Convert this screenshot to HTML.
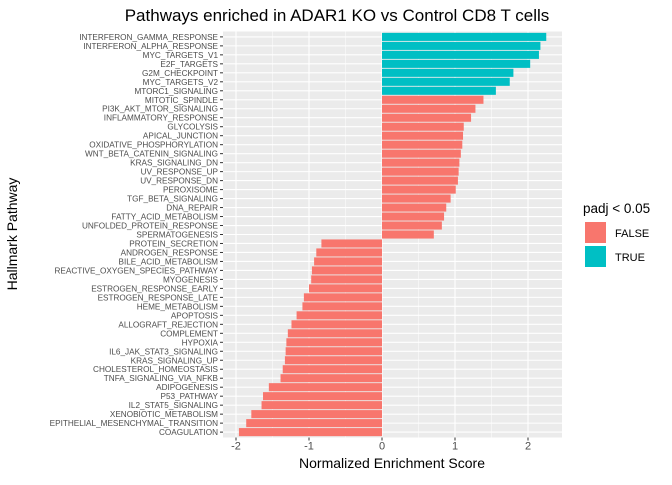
<!DOCTYPE html>
<html><head><meta charset="utf-8"><style>
body{margin:0;background:#fff;font-family:"Liberation Sans",sans-serif}
svg text{font-family:"Liberation Sans",sans-serif}
</style></head><body>
<svg id="c" width="672" height="480"></svg>
<script>
const categories=["INTERFERON_GAMMA_RESPONSE","INTERFERON_ALPHA_RESPONSE","MYC_TARGETS_V1","E2F_TARGETS","G2M_CHECKPOINT","MYC_TARGETS_V2","MTORC1_SIGNALING","MITOTIC_SPINDLE","PI3K_AKT_MTOR_SIGNALING","INFLAMMATORY_RESPONSE","GLYCOLYSIS","APICAL_JUNCTION","OXIDATIVE_PHOSPHORYLATION","WNT_BETA_CATENIN_SIGNALING","KRAS_SIGNALING_DN","UV_RESPONSE_UP","UV_RESPONSE_DN","PEROXISOME","TGF_BETA_SIGNALING","DNA_REPAIR","FATTY_ACID_METABOLISM","UNFOLDED_PROTEIN_RESPONSE","SPERMATOGENESIS","PROTEIN_SECRETION","ANDROGEN_RESPONSE","BILE_ACID_METABOLISM","REACTIVE_OXYGEN_SPECIES_PATHWAY","MYOGENESIS","ESTROGEN_RESPONSE_EARLY","ESTROGEN_RESPONSE_LATE","HEME_METABOLISM","APOPTOSIS","ALLOGRAFT_REJECTION","COMPLEMENT","HYPOXIA","IL6_JAK_STAT3_SIGNALING","KRAS_SIGNALING_UP","CHOLESTEROL_HOMEOSTASIS","TNFA_SIGNALING_VIA_NFKB","ADIPOGENESIS","P53_PATHWAY","IL2_STAT5_SIGNALING","XENOBIOTIC_METABOLISM","EPITHELIAL_MESENCHYMAL_TRANSITION","COAGULATION"];
const nes=[2.25,2.17,2.15,2.03,1.8,1.75,1.56,1.39,1.28,1.22,1.12,1.11,1.1,1.08,1.06,1.05,1.04,1.01,0.94,0.88,0.85,0.82,0.71,-0.83,-0.9,-0.93,-0.96,-0.97,-1.0,-1.07,-1.09,-1.17,-1.24,-1.29,-1.31,-1.32,-1.33,-1.36,-1.39,-1.55,-1.63,-1.65,-1.79,-1.86,-1.96];
const signif=[1,1,1,1,1,1,1,0,0,0,0,0,0,0,0,0,0,0,0,0,0,0,0,0,0,0,0,0,0,0,0,0,0,0,0,0,0,0,0,0,0,0,0,0,0];
const xTicks=[-2,-1,0,1,2];
const NS="http://www.w3.org/2000/svg",svg=document.getElementById('c');
const L=223,R=562,T=31.5,B=437.5;
const x=v=>382+v*73;
const step=(B-T)/(categories.length-1+1.2);
const y=i=>T+step*(0.6+i);
function mk(t,a,p){const e=document.createElementNS(NS,t);for(const k in a)e.setAttribute(k,a[k]);(p||svg).appendChild(e);return e;}
let e;
e=mk('rect',{x:L,y:T,width:R-L,height:B-T,fill:'#ebebeb'});


for(let i=0;i<xTicks.length-1;i++){const m=(xTicks[i]+xTicks[i+1])/2;mk('line',{x1:x(m),x2:x(m),y1:T,y2:B,stroke:'#fff','stroke-width':0.5});}
xTicks.forEach(t=>{mk('line',{x1:x(t),x2:x(t),y1:T,y2:B,stroke:'#fff','stroke-width':1.1});});
categories.forEach((c,i)=>mk('line',{x1:L,x2:R,y1:y(i),y2:y(i),stroke:'#fff','stroke-width':1.1}));
const bw=step*0.9;
categories.forEach((c,i)=>{
 const v=nes[i];
 e=mk('rect',{x:Math.min(x(0),x(v)),y:y(i)-bw/2,width:Math.abs(x(v)-x(0)),height:bw,fill:signif[i]?'#00bfc4':'#f8766d'});
 
 
 mk('line',{x1:L-3,x2:L,y1:y(i),y2:y(i),stroke:'#333','stroke-width':1});
 e=mk('text',{x:L-5,y:y(i)+3,'font-size':8.2,fill:'#4d4d4d','text-anchor':'end'});e.textContent=c;
 
 
});
xTicks.forEach(t=>{
 mk('line',{x1:x(t),x2:x(t),y1:B,y2:B+3,stroke:'#333','stroke-width':1});
 e=mk('text',{x:x(t),y:B+12,'font-size':11,fill:'#4d4d4d','text-anchor':'middle'});e.textContent=t;
 
 
});
e=mk('text',{x:392,y:468,'font-size':14,fill:'#000','text-anchor':'middle'});e.textContent='Normalized Enrichment Score';


e=mk('text',{x:0,y:0,'font-size':14,fill:'#000','text-anchor':'middle',transform:'translate(17,234) rotate(-90)'});e.textContent='Hallmark Pathway';


e=mk('text',{x:337,y:21,'font-size':17,fill:'#000','text-anchor':'middle'});e.textContent='Pathways enriched in ADAR1 KO vs Control CD8 T cells';


e=mk('text',{x:583,y:213,'font-size':13.5,fill:'#000'});e.textContent='padj < 0.05';


[['FALSE','#f8766d',222],['TRUE','#00bfc4',246]].forEach(([l,c,yy])=>{
 e=mk('rect',{x:585,y:yy,width:21,height:21,fill:c});
 
 
 e=mk('text',{x:615,y:yy+15,'font-size':11,fill:'#000'});e.textContent=l;
 
 
});
</script>
</body></html>
